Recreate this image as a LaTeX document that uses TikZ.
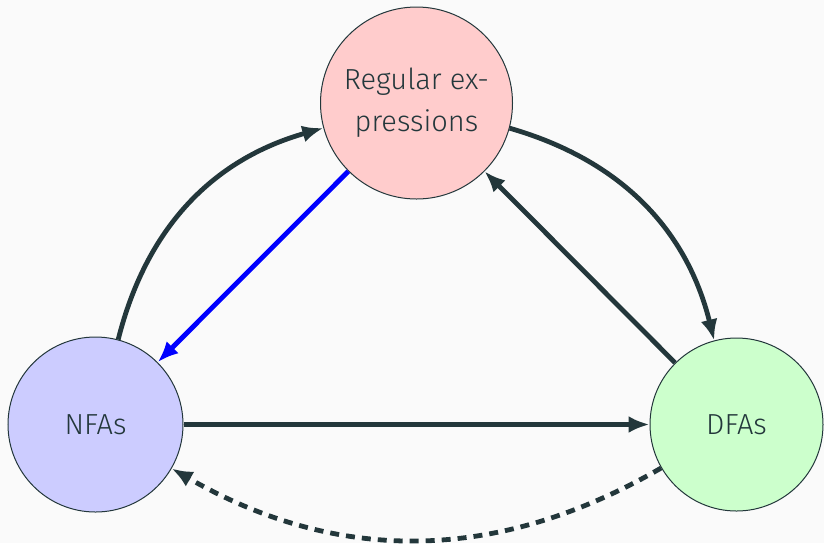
\documentclass[tikz,border=0pt]{standalone}
\usepackage{fontspec}
\setmainfont{Fira Sans}[UprightFont={* Light}]
\usetikzlibrary{arrows.meta}
\definecolor{bgc}{HTML}{FAFAFA}
\definecolor{ink}{HTML}{23373B}
\definecolor{refill}{HTML}{FFCCCC}
\definecolor{nfafill}{HTML}{CCCCFF}
\definecolor{dfafill}{HTML}{CCFFCC}
\tikzset{
  statenode/.style={circle, draw=ink, line width=0.5pt, inner sep=0pt, text=ink,
    font=\fontsize{14.5pt}{21pt}\selectfont, align=center},
  conn/.style={draw=ink, line width=2.4pt, -{Latex[length=10.5pt,width=8.5pt]}},
}
\begin{document}
\begin{tikzpicture}[x=0.5pt,y=-0.5pt]
\fill[bgc] (0,0) rectangle (824,543);
\useasboundingbox (0,0) rectangle (824,543);
\node[statenode, fill=refill, minimum size=96pt] (re) at (416.5,103) {Regular ex-\\pressions};
\node[statenode, fill=nfafill, minimum size=87.5pt] (nfa) at (95.5,424.5) {NFAs};
\node[statenode, fill=dfafill, minimum size=86.5pt] (dfa) at (736.5,424.5) {DFAs};
\draw[conn] (nfa) to[bend left=30] (re);
\draw[conn] (re) to[bend left=30] (dfa);
\draw[conn] (dfa) -- (re);
\draw[conn, draw=blue] (re) -- (nfa);
\draw[conn] (nfa) -- (dfa);
\draw[conn, dash pattern=on 4.5pt off 3.5pt] (dfa) to[bend left=30] (nfa);
\end{tikzpicture}
\end{document}
